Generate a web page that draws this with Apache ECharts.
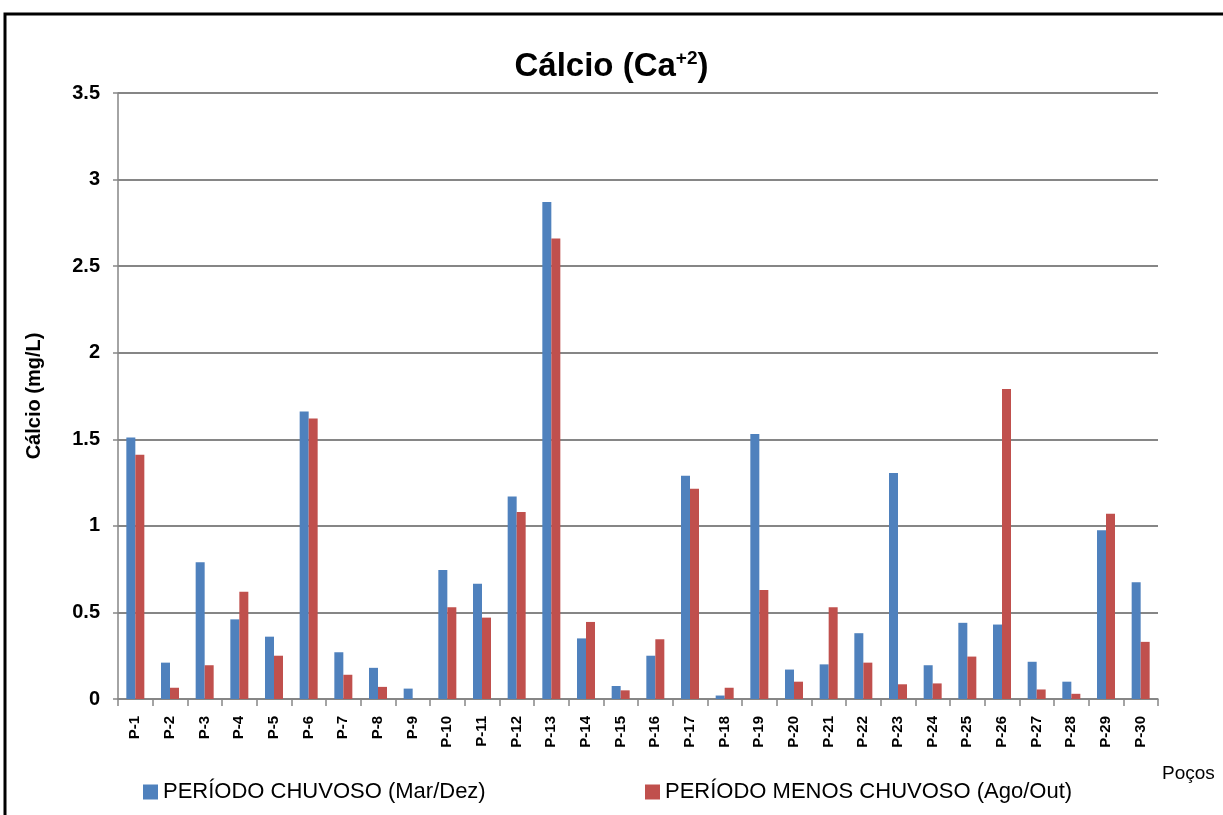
<!DOCTYPE html>
<html><head><meta charset="utf-8">
<script src="https://cdn.jsdelivr.net/npm/echarts@6/dist/echarts.min.js"></script>
<style>html,body{margin:0;padding:0;background:#fff}#c{width:1223px;height:815px}</style>
</head><body><div id="c"></div>
<script>
const categories = ['P-1','P-2','P-3','P-4','P-5','P-6','P-7','P-8','P-9','P-10','P-11','P-12','P-13','P-14','P-15','P-16','P-17','P-18','P-19','P-20','P-21','P-22','P-23','P-24','P-25','P-26','P-27','P-28','P-29','P-30'];
const chuvoso = [1.51,0.21,0.79,0.46,0.36,1.66,0.27,0.18,0.06,0.745,0.665,1.17,2.87,0.35,0.075,0.25,1.29,0.02,1.53,0.17,0.20,0.38,1.305,0.195,0.44,0.43,0.215,0.10,0.975,0.675];
const menosChuvoso = [1.41,0.065,0.195,0.62,0.25,1.62,0.14,0.07,0,0.53,0.47,1.08,2.66,0.445,0.05,0.345,1.215,0.065,0.63,0.10,0.53,0.21,0.085,0.09,0.245,1.79,0.055,0.03,1.07,0.33];
const yTicks = {min:0, max:3.5, interval:0.5};
const FONT = 'Liberation Sans';
const chart = echarts.init(document.getElementById('c'));
chart.setOption({
  animation:false,
  backgroundColor:'#fff',
  title:{text:'{a|Cálcio (Ca}{s|+2}{a|)}', left:'center', top:44,
    textStyle:{rich:{a:{fontFamily:FONT,fontWeight:'bold',fontSize:33,color:'#000'},
                     s:{fontFamily:FONT,fontWeight:'bold',fontSize:19,color:'#000',verticalAlign:'top',padding:[0,0,16,0]}}}},
  legend:[
    {data:['PERÍODO CHUVOSO (Mar/Dez)'], left:138, top:776, itemWidth:15, itemHeight:15, itemGap:6, icon:'rect',
     textStyle:{fontFamily:FONT,fontSize:22,color:'#000'}},
    {data:['PERÍODO MENOS CHUVOSO (Ago/Out)'], left:640, top:776, itemWidth:15, itemHeight:15, icon:'rect',
     textStyle:{fontFamily:FONT,fontSize:22,color:'#000'}}
  ],
  grid:{left:118, right:65, top:93, bottom:116},
  xAxis:{type:'category', data:categories,
    axisLine:{lineStyle:{color:'#868686',width:1.5}},
    axisTick:{show:true, length:7, lineStyle:{color:'#868686',width:1.5}, alignWithLabel:false},
    axisLabel:{rotate:90, interval:0, margin:17, fontFamily:FONT, fontWeight:'bold', fontSize:15, color:'#000'}},
  yAxis:{type:'value', min:yTicks.min, max:yTicks.max, interval:yTicks.interval,
    name:'Cálcio (mg/L)', nameLocation:'middle', nameGap:74, nameRotate:90,
    nameTextStyle:{fontFamily:FONT,fontWeight:'bold',fontSize:20,color:'#000'},
    axisLine:{show:true,lineStyle:{color:'#868686',width:1.5}},
    axisTick:{show:true,length:5,lineStyle:{color:'#868686',width:1.5}},
    axisLabel:{fontFamily:FONT,fontWeight:'bold',fontSize:20,color:'#000',margin:18,
      formatter:v=>String(v)},
    splitLine:{lineStyle:{color:'#868686',width:2}}},
  series:[
    {name:'PERÍODO CHUVOSO (Mar/Dez)', type:'bar', data:chuvoso, barWidth:9, barGap:'0%', itemStyle:{color:'#4F81BD'}},
    {name:'PERÍODO MENOS CHUVOSO (Ago/Out)', type:'bar', data:menosChuvoso, barWidth:9, barGap:'0%', itemStyle:{color:'#C0504D'}}
  ],
  graphic:[
    {type:'rect', shape:{x:5,y:14,width:1240,height:820}, style:{fill:'none',stroke:'#000',lineWidth:3}, silent:true},
    {type:'text', left:1162, top:764, style:{text:'Poços', fontFamily:FONT, fontSize:19, fill:'#000'}}
  ]
});
</script></body></html>
